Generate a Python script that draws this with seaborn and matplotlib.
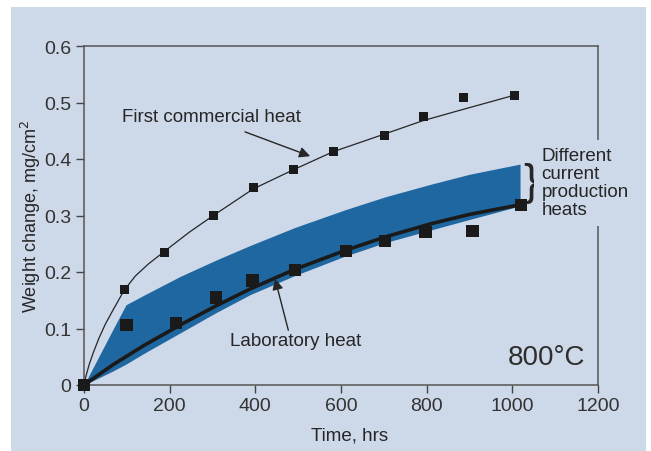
import matplotlib
matplotlib.use("Agg")
import matplotlib.pyplot as plt
from matplotlib.patches import Rectangle
import seaborn as sns
import pandas as pd

# ---- data (time in hours, weight change in mg/cm^2) ----
commercial_t = [0, 94, 187, 302, 395, 489, 582, 701, 792, 886, 1005]
commercial_w = [0, 0.169, 0.235, 0.300, 0.349, 0.381, 0.414, 0.442, 0.476, 0.509, 0.513]

commercial_fit_t = [0, 5, 12, 22, 35, 50, 68, 94, 120, 150, 187, 245, 302, 395, 489, 582, 701, 792, 886, 1005]
commercial_fit_w = [0, 0.017, 0.036, 0.058, 0.083, 0.108, 0.133, 0.168, 0.193, 0.214, 0.236, 0.270, 0.300, 0.347, 0.381, 0.413, 0.444, 0.468, 0.488, 0.513]

lab_t = [0, 99, 215, 308, 393, 493, 611, 703, 797, 907, 1020]
lab_w = [0, 0.106, 0.110, 0.155, 0.185, 0.204, 0.237, 0.255, 0.271, 0.273, 0.319]

lab_fit_t = [0, 68, 140, 224, 308, 388, 493, 609, 703, 808, 900, 1018]
lab_fit_w = [0, 0.036, 0.070, 0.106, 0.140, 0.170, 0.205, 0.238, 0.262, 0.285, 0.302, 0.319]

band_t = [0, 68, 98, 140, 224, 308, 388, 493, 609, 703, 808, 900, 1018]
band_upper = [0, 0.099, 0.142, 0.159, 0.192, 0.221, 0.247, 0.279, 0.310, 0.333, 0.355, 0.373, 0.391]
band_lower = [0, 0.025, 0.037, 0.056, 0.092, 0.128, 0.160, 0.194, 0.228, 0.252, 0.274, 0.293, 0.317]

x_ticks = [0, 200, 400, 600, 800, 1000, 1200]
y_ticks = [0, 0.1, 0.2, 0.3, 0.4, 0.5, 0.6]
y_tick_labels = ["0", "0.1", "0.2", "0.3", "0.4", "0.5", "0.6"]

# ---- style ----
BG = "#cdd8e9"
BAND = "#1f67a1"
INK = "#262626"

sns.set_theme(style="ticks")
plt.rcParams["font.family"] = ["Liberation Sans Narrow", "Liberation Sans", "DejaVu Sans"]
plt.rcParams["text.color"] = INK
plt.rcParams["axes.labelcolor"] = INK

fig = plt.figure(figsize=(6.51, 4.52), dpi=100, facecolor="white")
panel = Rectangle((11 / 651, 0), 635 / 651, 444 / 452,
                  transform=fig.transFigure, facecolor=BG,
                  edgecolor="none", zorder=-10)
fig.add_artist(panel)
ax = fig.add_axes([84 / 651, 66 / 452, 514 / 651, 339 / 452])
ax.set_zorder(1)
ax.patch.set_visible(False)

# band of production heats
ax.fill_between(band_t, band_lower, band_upper, color=BAND, lw=0, zorder=1)

df_cf = pd.DataFrame({"t": commercial_fit_t, "w": commercial_fit_w})
df_lf = pd.DataFrame({"t": lab_fit_t, "w": lab_fit_w})
df_c = pd.DataFrame({"t": commercial_t, "w": commercial_w})
df_l = pd.DataFrame({"t": lab_t, "w": lab_w})

sns.lineplot(data=df_cf, x="t", y="w", ax=ax, color=INK, lw=0.9, sort=False, zorder=2)
sns.lineplot(data=df_lf, x="t", y="w", ax=ax, color="#1a1a1a", lw=2.6, sort=False, zorder=3)
sns.scatterplot(data=df_c, x="t", y="w", ax=ax, marker="s", s=42, color="#1a1a1a",
                edgecolor="none", zorder=4, clip_on=False)
sns.scatterplot(data=df_l, x="t", y="w", ax=ax, marker="s", s=80, color="#1a1a1a",
                edgecolor="none", zorder=4, clip_on=False)

ax.set_xlim(0, 1200)
ax.set_ylim(0, 0.6)
ax.set_xticks(x_ticks)
ax.set_yticks(y_ticks)
ax.set_yticklabels(y_tick_labels)
ax.tick_params(axis="both", direction="out", length=6, width=1, colors="#444444",
               labelsize=14, labelcolor="#333333", pad=3)
for side in ["left", "right", "top", "bottom"]:
    ax.spines[side].set_visible(True)
    ax.spines[side].set_color("#555555")
    ax.spines[side].set_linewidth(1.1)

ax.set_xlabel("Time, hrs", fontsize=13.5, labelpad=9, x=0.517)
ax.set_ylabel("Weight change, mg/cm$^2$", fontsize=13, labelpad=1)

arrow = dict(arrowstyle="-|>", color=INK, lw=1.0, mutation_scale=16, shrinkA=0, shrinkB=0)
ax.text(89, 0.476, "First commercial heat", fontsize=13.5, va="center", ha="left")
ax.annotate("", xy=(528, 0.405), xytext=(376, 0.448), arrowprops=arrow)

ax.text(341, 0.078, "Laboratory heat", fontsize=13.5, va="center", ha="left")
ax.annotate("", xy=(446, 0.188), xytext=(477, 0.097), arrowprops=arrow)

ax.text(1170, 0.05, "800°C", fontsize=20, ha="right", va="center", color="#2e2e2e")

ax.text(1044, 0.358, "}", fontsize=32, ha="center", va="center", fontweight="light")
ax.text(1068, 0.358, "Different\ncurrent\nproduction\nheats", fontsize=13.5,
        ha="left", va="center", linespacing=1.08, zorder=5,
        bbox=dict(boxstyle="square,pad=0.4", facecolor=BG, edgecolor="none"))

fig.savefig("out.png", dpi=100, facecolor=fig.get_facecolor())
